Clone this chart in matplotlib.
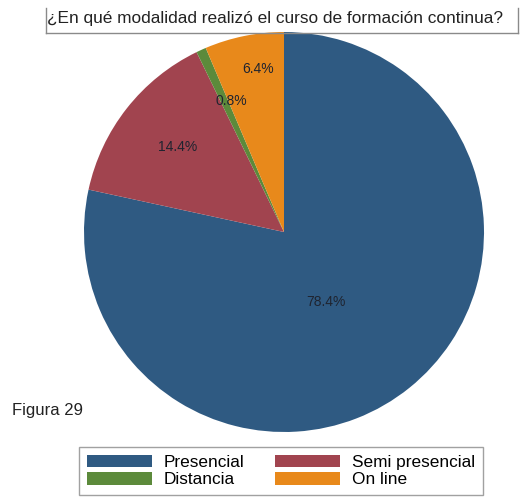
import matplotlib
matplotlib.use("Agg")
import matplotlib.pyplot as plt
from matplotlib.lines import Line2D

plt.rcParams['font.family'] = ['Liberation Sans', 'DejaVu Sans']

categories = ["Presencial", "Semi presencial", "Distancia", "On line"]
values = [78.4, 14.4, 0.8, 6.4]
colors = ["#2f5a82", "#a1444f", "#5c8a3b", "#e8891b"]
title = "¿En qué modalidad realizó el curso de formación continua?"

W, H = 527, 497
fig = plt.figure(figsize=(W / 100, H / 100), dpi=100)

# pie axes: center (284, 232) px, radius 200 px
cx, cy, r = 284, 232, 200
ax = fig.add_axes([(cx - r) / W, (H - cy - r) / H, 2 * r / W, 2 * r / H])
wedges, texts, autotexts = ax.pie(values, colors=colors, startangle=90,
                                  counterclock=False, radius=1,
                                  autopct="%.1f%%", pctdistance=0.6,
                                  wedgeprops=dict(linewidth=0),
                                  textprops=dict(fontsize=10, color="#1f2430"))
ax.set_xlim(-1, 1)
ax.set_ylim(-1, 1)
ax.set_aspect("auto")
ax.axis("off")

# label spots as in the original
label_pos = [(0.21, -0.35), (-0.53, 0.425), (-0.265, 0.655), (-0.13, 0.815)]
for t, p in zip(autotexts, label_pos):
    t.set_position(p)

# title with its frame
fig.text(275 / W, 1 - 19 / H, title, ha="center", va="center", fontsize=12.4, color="#222222")
fx = lambda x: x / W
fy = lambda y: 1 - y / H
frame = "#8a8a8a"
fig.add_artist(Line2D([fx(46), fx(46)], [fy(8), fy(33)], color=frame, lw=1))
fig.add_artist(Line2D([fx(518), fx(518)], [fy(8), fy(33)], color=frame, lw=1))
fig.add_artist(Line2D([fx(46), fx(518)], [fy(33), fy(33)], color=frame, lw=1))

fig.text(12 / W, 1 - 410 / H, "Figura 29", ha="left", va="center", fontsize=12, color="#222222")

# row-wise order like the original legend
order = [0, 2, 1, 3]
leg = fig.legend([wedges[i] for i in order], [categories[i] for i in order],
                 ncol=2, loc="upper left",
                 bbox_to_anchor=(79 / W, 1 - 447 / H), fontsize=12.4,
                 frameon=True, fancybox=False, edgecolor="#8a8a8a",
                 handlelength=3.78, handleheight=0.75, handletextpad=0.7,
                 columnspacing=1.75, labelspacing=0.12, borderpad=0.45,
                 borderaxespad=0)
leg.get_frame().set_linewidth(1)

fig.savefig("out.png", dpi=100)
